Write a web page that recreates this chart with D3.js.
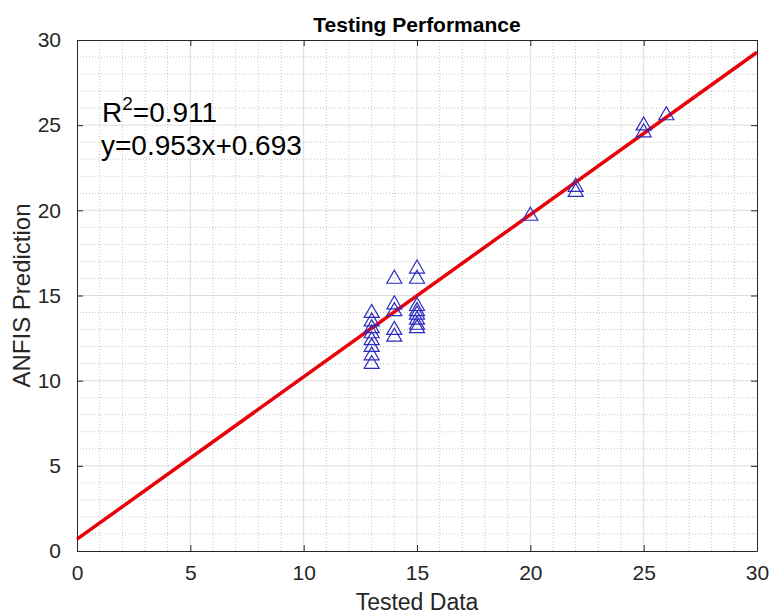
<!DOCTYPE html>
<html>
<head>
<meta charset="utf-8">
<script src="https://cdn.jsdelivr.net/npm/d3@7"></script>
<style>
  body { margin: 0; background: #fff; }
  text { font-family: "Liberation Sans", Arial, Helvetica, sans-serif; }
</style>
</head>
<body>
<div id="chart"></div>
<script>
// tested vs predicted values
const tested = [13, 13, 13, 13, 13, 13, 13, 13,
                14, 14, 14, 14, 14,
                15, 15, 15, 15, 15, 15, 15, 15,
                20, 22, 22, 25, 25, 26];
const predicted = [14.1, 13.6, 13.2, 12.9, 12.5, 12.1, 11.6, 11.1,
                   16.1, 14.6, 14.2, 13.1, 12.7,
                   16.7, 16.1, 14.5, 14.2, 14.0, 13.7, 13.4, 13.2,
                   19.8, 21.5, 21.2, 25.1, 24.7, 25.7];
const fitSlope = 0.953;
const fitIntercept = 0.693;
const r2Label = '0.911';
const majorTicks = [0, 5, 10, 15, 20, 25, 30];

const totalWidth = 770;
const totalHeight = 614;
const margin = { top: 40, right: 13, bottom: 63, left: 77 };
const width = totalWidth - margin.left - margin.right;
const height = totalHeight - margin.top - margin.bottom;

const x = d3.scaleLinear().domain([0, 30]).range([0, width]);
const y = d3.scaleLinear().domain([0, 30]).range([height, 0]);

const svg = d3.select('#chart').append('svg')
    .attr('width', totalWidth)
    .attr('height', totalHeight);

const g = svg.append('g')
    .attr('transform', `translate(${margin.left},${margin.top})`);

// minor grid (dotted, every unit)
const minor = d3.range(1, 30).filter(d => d % 5 !== 0);
g.append('g')
  .selectAll('line')
  .data(minor)
  .join('line')
    .attr('x1', d => x(d)).attr('x2', d => x(d))
    .attr('y1', 0).attr('y2', height)
    .attr('stroke', '#c4c4c4')
    .attr('stroke-dasharray', '1,2');
g.append('g')
  .selectAll('line')
  .data(minor)
  .join('line')
    .attr('y1', d => y(d)).attr('y2', d => y(d))
    .attr('x1', 0).attr('x2', width)
    .attr('stroke', '#c4c4c4')
    .attr('stroke-dasharray', '1,2');

// major grid
g.append('g')
  .selectAll('line')
  .data(majorTicks.slice(1, -1))
  .join('line')
    .attr('x1', d => x(d)).attr('x2', d => x(d))
    .attr('y1', 0).attr('y2', height)
    .attr('stroke', '#dcdcdc');
g.append('g')
  .selectAll('line')
  .data(majorTicks.slice(1, -1))
  .join('line')
    .attr('y1', d => y(d)).attr('y2', d => y(d))
    .attr('x1', 0).attr('x2', width)
    .attr('stroke', '#dcdcdc');

// axes, ticks pointing inward on all four sides
const axisColor = '#262626';
function styleAxis(sel) {
  sel.select('.domain').attr('stroke', axisColor);
  sel.selectAll('.tick line').attr('stroke', axisColor);
  sel.selectAll('.tick text')
      .attr('fill', axisColor)
      .attr('font-size', 21);
}

g.append('g')
    .attr('transform', `translate(0,${height})`)
    .call(d3.axisBottom(x).tickValues(majorTicks).tickSize(-6).tickSizeOuter(0).tickPadding(14))
    .call(styleAxis);
g.append('g')
    .call(d3.axisTop(x).tickValues(majorTicks).tickSize(-6).tickSizeOuter(0).tickFormat(''))
    .call(styleAxis);
g.append('g')
    .call(d3.axisLeft(y).tickValues(majorTicks).tickSize(-6).tickSizeOuter(0).tickPadding(16))
    .call(styleAxis);
g.append('g')
    .attr('transform', `translate(${width},0)`)
    .call(d3.axisRight(y).tickValues(majorTicks).tickSize(-6).tickSizeOuter(0).tickFormat(''))
    .call(styleAxis);

// fitted line
const fit = d3.line()
    .x(d => x(d))
    .y(d => y(fitSlope * d + fitIntercept));
g.append('path')
    .datum([0, 30])
    .attr('d', fit)
    .attr('fill', 'none')
    .attr('stroke', '#e8000b')
    .attr('stroke-width', 3.5);

// triangle markers
const triW = 7.5;
const triH = 6.5;
g.append('g')
  .selectAll('path')
  .data(tested.map((t, i) => ({ t, p: predicted[i] })))
  .join('path')
    .attr('d', `M0,${-triH}L${triW},${triH}L${-triW},${triH}Z`)
    .attr('transform', d => `translate(${x(d.t)},${y(d.p)})`)
    .attr('fill', 'none')
    .attr('stroke', '#2b2bc0')
    .attr('stroke-width', 1.2);

// annotation
const ann = g.append('text')
    .attr('x', 25)
    .attr('y', 82)
    .attr('font-size', 28)
    .attr('fill', '#000');
ann.append('tspan').text('R');
ann.append('tspan').attr('dy', -12).attr('font-size', 19).text('2');
ann.append('tspan').attr('dy', 12).text('=' + r2Label);

g.append('text')
    .attr('x', 24)
    .attr('y', 115)
    .attr('font-size', 28)
    .attr('fill', '#000')
    .text(`y=${fitSlope}x+${fitIntercept}`);

// title and axis labels
g.append('text')
    .attr('x', width / 2)
    .attr('y', -8)
    .attr('text-anchor', 'middle')
    .attr('font-size', 21)
    .attr('font-weight', 'bold')
    .attr('fill', '#000')
    .text('Testing Performance');

g.append('text')
    .attr('x', width / 2)
    .attr('y', height + 59)
    .attr('text-anchor', 'middle')
    .attr('font-size', 23)
    .attr('fill', axisColor)
    .text('Tested Data');

g.append('text')
    .attr('transform', `translate(${-47},${height / 2}) rotate(-90)`)
    .attr('text-anchor', 'middle')
    .attr('font-size', 24)
    .attr('fill', axisColor)
    .text('ANFIS Prediction');
</script>
</body>
</html>
